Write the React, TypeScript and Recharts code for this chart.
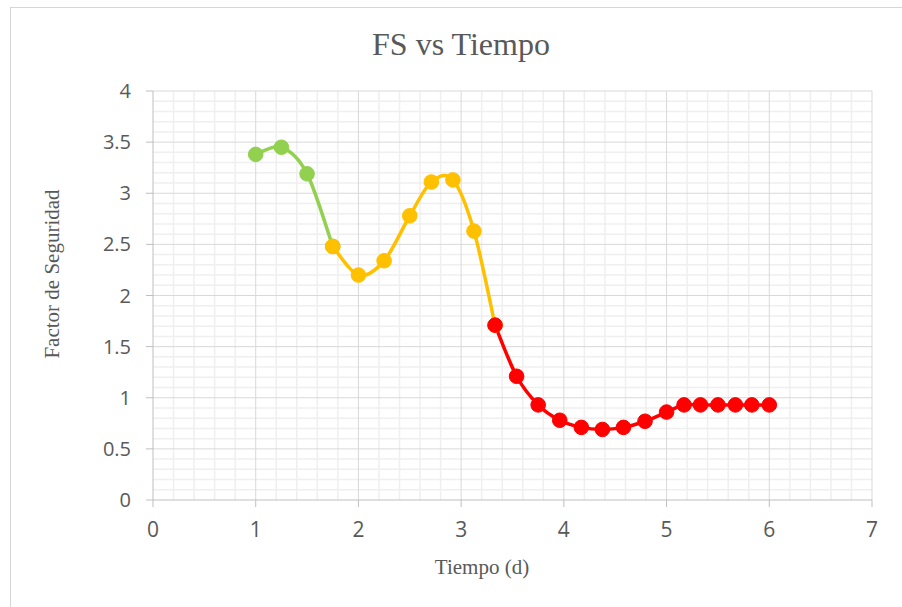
import React from 'react';
import { LineChart, Line, XAxis, YAxis, ReferenceLine } from 'recharts';

// ---- data ----
const greenTime = [1, 1.25, 1.5, 1.75];
const greenFS = [3.38, 3.45, 3.19, 2.48];

const yellowTime = [1.75, 2, 2.25, 2.5, 2.71, 2.92, 3.125, 3.33];
const yellowFS = [2.48, 2.2, 2.34, 2.78, 3.11, 3.13, 2.63, 1.71];

const redTime = [3.33, 3.54, 3.75, 3.96, 4.17, 4.375, 4.58, 4.79, 5, 5.17, 5.33, 5.5, 5.67, 5.83, 6];
const redFS = [1.71, 1.21, 0.93, 0.78, 0.71, 0.69, 0.71, 0.77, 0.86, 0.93, 0.93, 0.93, 0.93, 0.93, 0.93];

const xTicks = [0, 1, 2, 3, 4, 5, 6, 7];
const yTicks = [0, 0.5, 1, 1.5, 2, 2.5, 3, 3.5, 4];
// gridline positions (minor every 0.2 on x, every 0.1 on y)
const xMinorGrid = Array.from({ length: 36 }, (_, i) => Math.round(i * 2) / 10).filter(
  (v) => !xTicks.includes(v)
);
const yMinorGrid = Array.from({ length: 41 }, (_, i) => Math.round(i) / 10).filter(
  (v) => !yTicks.includes(v)
);
const xMajorGrid = xTicks.filter((v) => v !== 0);
const yMajorGrid = yTicks.filter((v) => v !== 0);

const toRows = (ts: number[], vs: number[]) => ts.map((t, i) => ({ t, fs: vs[i] }));
const greenData = toRows(greenTime, greenFS);
const yellowData = toRows(yellowTime, yellowFS);
const redData = toRows(redTime, redFS);

const GREEN = '#92D050';
const YELLOW = '#FFC000';
const RED = '#FF0000';
const TEXT = '#595959';
const MINOR = '#efefef';
const MAJOR = '#d9d9d9';

// Excel-like smoothed line (Catmull-Rom as cubic Bezier)
function excelSmooth(context: any) {
  let pts: number[][] = [];
  return {
    areaStart() {},
    areaEnd() {},
    lineStart() {
      pts = [];
    },
    point(x: number, y: number) {
      pts.push([+x, +y]);
    },
    lineEnd() {
      const n = pts.length;
      if (!n) return;
      context.moveTo(pts[0][0], pts[0][1]);
      if (n === 1) return;
      const k = 1 / 6;
      for (let i = 0; i < n - 1; i++) {
        const p0 = pts[Math.max(i - 1, 0)];
        const p1 = pts[i];
        const p2 = pts[i + 1];
        const p3 = pts[Math.min(i + 2, n - 1)];
        context.bezierCurveTo(
          p1[0] + (p2[0] - p0[0]) * k,
          p1[1] + (p2[1] - p0[1]) * k,
          p2[0] - (p3[0] - p1[0]) * k,
          p2[1] - (p3[1] - p1[1]) * k,
          p2[0],
          p2[1]
        );
      }
    },
  };
}

const serif = '"Liberation Serif", "Times New Roman", serif';
const sans = '"Open Sans", "Noto Sans", sans-serif';

const YTitle = () => (
  <text
    x={59}
    y={274}
    transform="rotate(-90 59 274)"
    textAnchor="middle"
    fontFamily={serif}
    fontSize={21}
    fill={TEXT}
  >
    Factor de Seguridad
  </text>
);

const XTitle = () => (
  <text x={482} y={574} textAnchor="middle" fontFamily={serif} fontSize={21} fill={TEXT}>
    Tiempo (d)
  </text>
);

export default function App() {
  return (
    <div
      style={{
        position: 'absolute',
        left: 0,
        top: 0,
        width: 902,
        height: 607,
        overflow: 'hidden',
        background: '#fff',
      }}
    >
      <div
        style={{
          position: 'absolute',
          left: 10,
          top: 7,
          width: 900,
          height: 620,
          border: '1px solid #d6d6d6',
          boxSizing: 'border-box',
        }}
      />
      <div
        style={{
          position: 'absolute',
          left: 0,
          width: 922,
          top: 28,
          textAlign: 'center',
          fontFamily: serif,
          fontSize: 32,
          lineHeight: '32px',
          color: TEXT,
        }}
      >
        FS vs Tiempo
      </div>
      <div style={{ position: 'absolute', left: 0, top: 0 }}>
        <LineChart
          width={902}
          height={607}
          margin={{ top: 91, right: 30, bottom: 47, left: 10 }}
        >
          <XAxis
            type="number"
            dataKey="t"
            domain={[0, 7]}
            ticks={xTicks}
            allowDataOverflow
            height={60}
            stroke="#bfbfbf"
            tickSize={7}
            tickMargin={15}
            tick={{ fill: TEXT, fontSize: 21, fontFamily: sans }}
            label={<XTitle />}
          />
          <YAxis
            type="number"
            domain={[0, 4]}
            ticks={yTicks}
            width={143}
            stroke="#bfbfbf"
            tickSize={7}
            tickMargin={15}
            tick={{ fill: TEXT, fontSize: 20, fontFamily: sans }}
            label={<YTitle />}
          />
          {xMinorGrid.map((v) => (
            <ReferenceLine key={'xm' + v} x={v} stroke={MINOR} strokeWidth={1.5} />
          ))}
          {yMinorGrid.map((v) => (
            <ReferenceLine key={'ym' + v} y={v} stroke={MINOR} strokeWidth={1.5} />
          ))}
          {xMajorGrid.map((v) => (
            <ReferenceLine key={'xM' + v} x={v} stroke={MAJOR} strokeWidth={1} />
          ))}
          {yMajorGrid.map((v) => (
            <ReferenceLine key={'yM' + v} y={v} stroke={MAJOR} strokeWidth={1} />
          ))}
          <Line
            data={greenData}
            dataKey="fs"
            type={excelSmooth as any}
            stroke={GREEN}
            strokeWidth={3.5}
            dot={{ r: 7.3, fill: GREEN, stroke: GREEN, strokeWidth: 1 }}
            activeDot={false}
            isAnimationActive={false}
          />
          <Line
            data={yellowData}
            dataKey="fs"
            type={excelSmooth as any}
            stroke={YELLOW}
            strokeWidth={3.5}
            dot={{ r: 7.3, fill: YELLOW, stroke: YELLOW, strokeWidth: 1 }}
            activeDot={false}
            isAnimationActive={false}
          />
          <Line
            data={redData}
            dataKey="fs"
            type={excelSmooth as any}
            stroke={RED}
            strokeWidth={3.5}
            dot={{ r: 7.3, fill: RED, stroke: RED, strokeWidth: 1 }}
            activeDot={false}
            isAnimationActive={false}
          />
        </LineChart>
      </div>
    </div>
  );
}
